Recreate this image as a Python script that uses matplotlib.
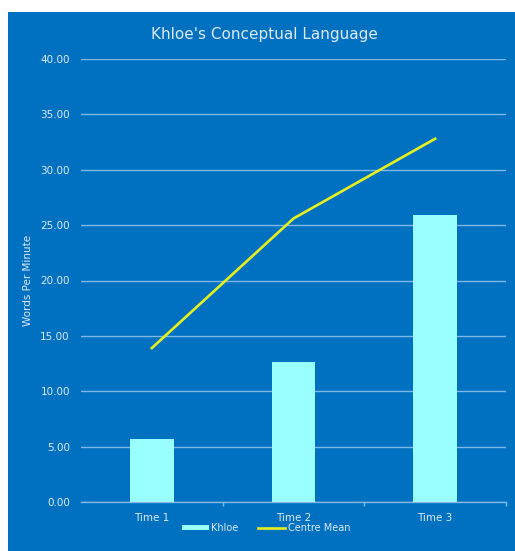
import matplotlib.pyplot as plt
import matplotlib.ticker as mticker
from matplotlib.patches import Rectangle
import numpy as np

categories = ['Time 1', 'Time 2', 'Time 3']
khloe = [5.7, 12.6, 25.9]
centre_mean = [13.9, 25.6, 32.8]

colors = {
    'bg': '#0070C0',
    'bar': '#99FFFF',
    'line': '#E6F01E',
    'grid': '#7FB8E4',
    'text': '#DCEBF7',
}

W, H = 515, 551
fig = plt.figure(figsize=(W / 100, H / 100), dpi=100)
fig.patch.set_facecolor('white')
fig.patches.append(Rectangle((8 / W, 0), 1 - 8 / W, 1 - 12 / H,
                             transform=fig.transFigure, facecolor=colors['bg'],
                             edgecolor='none', zorder=-10))

ax = fig.add_axes([81 / W, 1 - 502 / H, 425 / W, (502 - 59) / H])
ax.set_facecolor('none')
ax.set_zorder(5)

x = np.arange(len(categories))
bars = ax.bar(x, khloe, width=0.31, color=colors['bar'], zorder=3, label='Khloe')
line, = ax.plot(x, centre_mean, color=colors['line'], linewidth=1.9, zorder=4,
                label='Centre Mean')

ax.set_xlim(-0.5, 2.5)
ax.set_ylim(0, 40)
ax.yaxis.set_major_locator(mticker.MultipleLocator(5))
ax.yaxis.set_major_formatter(mticker.StrMethodFormatter('{x:.2f}'))
ax.grid(axis='y', color=colors['grid'], linewidth=1.0, zorder=1)
ax.set_xticks(x)
ax.set_xticklabels(categories)
ax.set_xticks([0.5, 1.5, 2.5], minor=True)
ax.tick_params(axis='x', which='major', length=0, pad=8, colors=colors['text'],
               labelsize=7.5)
ax.tick_params(axis='x', which='minor', length=3, width=1, color=colors['grid'])
ax.tick_params(axis='y', length=0, pad=8, colors=colors['text'], labelsize=7.5)

for side in ['top', 'right', 'left']:
    ax.spines[side].set_visible(False)
ax.spines['bottom'].set_color(colors['grid'])
ax.spines['bottom'].set_linewidth(1.0)

ax.set_ylabel('Words Per Minute', color=colors['text'], fontsize=7.5, labelpad=5)
fig.text(264 / W, 1 - 34 / H, "Khloe's Conceptual Language", color=colors['text'],
         fontsize=11, ha='center', va='center')

leg = fig.legend(handles=[bars, line], loc='center',
                 bbox_to_anchor=(266 / W, 1 - 528 / H), ncol=2, frameon=False,
                 fontsize=7, handlelength=2.8, handleheight=0.5,
                 columnspacing=2.0, handletextpad=0.25)
for t in leg.get_texts():
    t.set_color(colors['text'])

fig.savefig('out.png', dpi=100)
